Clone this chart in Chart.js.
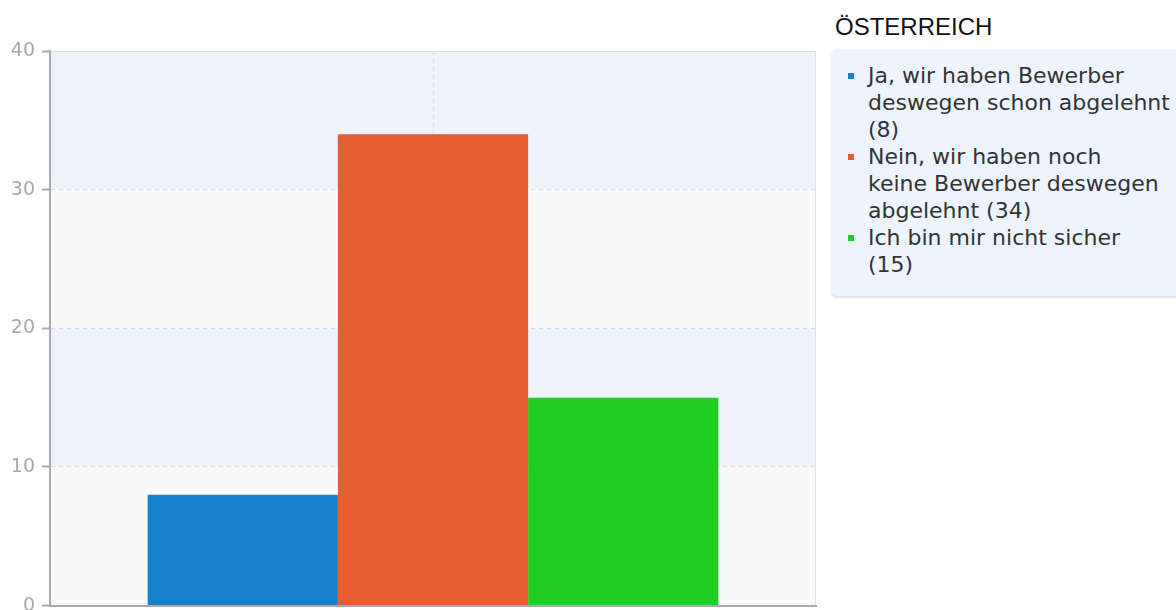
<!DOCTYPE html>
<html>
<head>
<meta charset="utf-8">
<script src="https://cdn.jsdelivr.net/npm/chart.js@4.4.1/dist/chart.umd.min.js"></script>
<style>
  html, body { margin: 0; padding: 0; background: #fff; }
  body { width: 1176px; height: 610px; position: relative; overflow: hidden; }
  #wrap { position: absolute; left: 0; top: 0; width: 818px; height: 624px; }
  #title {
    position: absolute; left: 835px; top: 13px;
    font: 24px "Liberation Sans", Arial, sans-serif; color: #111;
  }
  #legend {
    position: absolute; left: 831px; top: 49px; width: 345px; height: 247px;
    box-sizing: border-box; padding: 13px 5px 0 37px;
    background: #eef4fd; border-radius: 6px 0 0 6px;
    box-shadow: 0 2px 2px rgba(0, 0, 0, 0.12);
    font: 22px "DejaVu Sans", sans-serif; color: #333; line-height: 27px;
  }
  #legend div { position: relative; }
  #legend span {
    position: absolute; left: -20px; top: 11px; width: 6px; height: 6px;
  }
</style>
</head>
<body>
<div id="wrap"><canvas id="barChart"></canvas></div>
<div id="title"></div>
<div id="legend"></div>
<script>
const groupTitle = 'ÖSTERREICH';
const categories = ['Österreich'];
// legend labels, split into lines the way the original legend wraps them
const seriesLabels = [
  ['Ja, wir haben Bewerber', 'deswegen schon abgelehnt'],
  ['Nein, wir haben noch', 'keine Bewerber deswegen', 'abgelehnt'],
  ['Ich bin mir nicht sicher']
];
const seriesValues = [8, 34, 15];
const seriesColors = ['#1780cc', '#e55e31', '#22cc22'];
const yTicks = [0, 10, 20, 30, 40];

// alternating background bands + light frame on top/right
const bands = {
  id: 'bands',
  beforeDraw(chart) {
    const { ctx, chartArea, scales } = chart;
    const y = scales.y;
    ctx.save();
    for (let i = 0; i < yTicks.length - 1; i++) {
      const top = y.getPixelForValue(yTicks[i + 1]);
      const bottom = y.getPixelForValue(yTicks[i]);
      ctx.fillStyle = i % 2 === 0 ? '#f9f9f9' : '#eef3fb';
      ctx.fillRect(chartArea.left, top, chartArea.right - chartArea.left, bottom - top);
    }
    ctx.strokeStyle = '#e2e2e2';
    ctx.lineWidth = 1;
    ctx.beginPath();
    ctx.moveTo(chartArea.left, chartArea.top + 0.5);
    ctx.lineTo(chartArea.right - 0.5, chartArea.top + 0.5);
    ctx.lineTo(chartArea.right - 0.5, chartArea.bottom);
    ctx.stroke();
    ctx.restore();
  }
};

const ctx = document.getElementById('barChart');

if (ctx) {
  new Chart(ctx, {
    type: 'bar',
    data: {
      labels: categories,
      datasets: seriesLabels.map((label, i) => ({
        label: label.join(' '),
        data: [seriesValues[i]],
        backgroundColor: seriesColors[i],
        borderWidth: 0
      }))
    },
    options: {
      responsive: true,
      maintainAspectRatio: false,
      animation: false,
      categoryPercentage: 0.745,
      barPercentage: 1,
      layout: { padding: { top: 51, bottom: 4, right: 2, left: 0 } },
      plugins: {
        legend: { display: false },
        tooltip: { enabled: false }
      },
      scales: {
        x: {
          ticks: { display: false },
          grid: { offset: false, color: '#dcdcdc', drawTicks: false },
          border: { color: '#aaa', width: 2, dash: [4, 4] },
          afterFit(scale) { scale.height = 0; }
        },
        y: {
          min: 0,
          max: 40,
          afterBuildTicks(scale) { scale.ticks = yTicks.map(v => ({ value: v })); },
          ticks: {
            color: '#a8a8a8',
            padding: 7,
            font: { family: 'DejaVu Sans', size: 19 }
          },
          grid: { color: '#dcdcdc', tickLength: 8, tickColor: '#aaa', tickBorderDash: [], tickWidth: 2 },
          border: { color: '#aaa', width: 2, dash: [4, 4] },
          afterFit(scale) { scale.width = 50; }
        }
      }
    },
    plugins: [bands]
  });
}

document.getElementById('title').textContent = groupTitle;
const legend = document.getElementById('legend');
seriesLabels.forEach((lines, i) => {
  const item = document.createElement('div');
  const dot = document.createElement('span');
  dot.style.background = seriesColors[i];
  item.appendChild(dot);
  lines.forEach((line, j) => {
    if (j > 0) item.appendChild(document.createElement('br'));
    const last = j === lines.length - 1;
    item.appendChild(document.createTextNode(last ? line + ' (' + seriesValues[i] + ')' : line));
  });
  legend.appendChild(item);
});
</script>
</body>
</html>
